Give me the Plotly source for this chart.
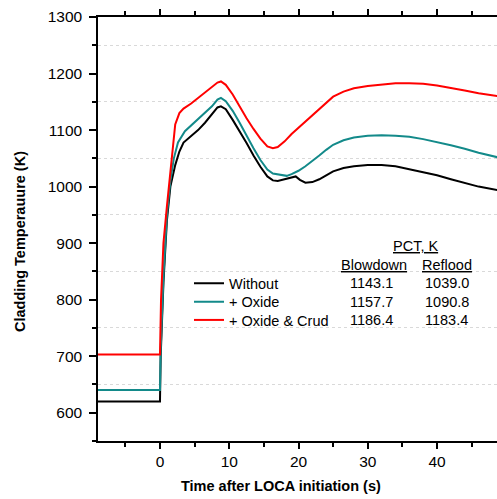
import plotly.graph_objects as go

# ---------------- data ----------------
t_without = [-9, 0, 0.1, 0.5, 1.0, 1.5, 2.2, 2.8, 3.4, 4.5, 5.5, 6.5, 7.5, 8.3, 8.8, 9.5,
             10.5, 11.5, 12.5, 13.5, 14.5, 15.5, 16.3, 17, 18, 19, 19.6, 20.2, 21, 22, 23,
             24, 25, 26.5, 28, 30, 32, 34, 36, 38, 40, 42, 44, 46, 48.7]
T_without = [620, 620, 700, 830, 940, 1000, 1038, 1062, 1078, 1089, 1100, 1113, 1128, 1140, 1142, 1137,
             1118, 1098, 1077, 1055, 1035, 1018, 1011, 1010, 1013, 1017, 1018, 1012, 1007, 1008, 1013,
             1020, 1027, 1033, 1036, 1038, 1038, 1036, 1031, 1026, 1020, 1013, 1006, 1000, 994]

t_oxide = [-9, 0, 0.1, 0.5, 1.0, 1.5, 2.0, 2.6, 3.6, 4.5, 5.5, 6.5, 7.5, 8.3, 8.8, 9.5,
           10.5, 11.5, 12.5, 13.5, 14.5, 15.5, 16.3, 17, 17.5, 18.3, 19, 20, 21, 22, 23,
           24, 25, 26.5, 28, 30, 32, 34, 36, 38, 40, 42, 44, 46, 48.7]
T_oxide = [640, 640, 710, 840, 950, 1010, 1050, 1078, 1098, 1108, 1119, 1130, 1142, 1154, 1157, 1151,
           1134, 1113, 1090, 1068, 1047, 1030, 1023, 1022, 1021, 1019, 1022, 1028, 1036, 1045, 1055,
           1065, 1074, 1082, 1087, 1090, 1091, 1090, 1088, 1084, 1079, 1073, 1067, 1060, 1052]

t_crud = [-9, 0, 0.15, 0.5, 1.0, 1.5, 2.2, 2.8, 3.4, 4.5, 5.5, 6.5, 7.5, 8.3, 8.8, 9.5,
          10.5, 11.5, 12.5, 13.5, 14.5, 15.5, 16.3, 17, 18, 19, 20, 21, 22, 23,
          24, 25, 26.5, 28, 30, 32, 34, 36, 38, 40, 42, 44, 46, 48.7]
T_crud = [703, 703, 800, 900, 965, 1028, 1110, 1130, 1138, 1147, 1157, 1166, 1176, 1184, 1186, 1180,
          1163, 1141, 1121, 1102, 1085, 1071, 1068, 1070, 1080, 1093, 1104, 1115, 1126, 1138,
          1149, 1159, 1168, 1174, 1178, 1181, 1183, 1183, 1182, 1179, 1175, 1170, 1165, 1160]

series_names = ["Without", "+ Oxide", "+ Oxide & Crud"]
pct_blowdown = ["1143.1", "1157.7", "1186.4"]
pct_reflood = ["1039.0", "1090.8", "1183.4"]
colors = ["#000000", "#138a8a", "#ff0000"]

# ---------------- geometry helpers (pixel -> paper) ----------------
W, H = 497, 499
L, R, T, B = 98, 0, 17, 58
PW, PH = W - L - R, H - T - B


def px(xp):
    return (xp - L) / PW


def py(yp):
    return (H - B - yp) / PH


FONT = "Liberation Sans, Arial, sans-serif"

fig = go.Figure()
xs = [t_without, t_oxide, t_crud]
ys = [T_without, T_oxide, T_crud]
legend_ids = ["legend", "legend2", "legend3"]
row_y = [283.3, 301.7, 320.0]

for i in range(3):
    fig.add_trace(go.Scatter(
        x=xs[i], y=ys[i], mode="lines", name=series_names[i],
        line=dict(color=colors[i], width=2),
        legend=legend_ids[i], showlegend=True,
    ))

legend_common = dict(
    xanchor="left", yanchor="middle", bgcolor="rgba(0,0,0,0)",
    borderwidth=0, font=dict(family=FONT, size=14.5, color="#000"),
    itemwidth=30, tracegroupgap=0,
)
layout_legends = {}
for i, lid in enumerate(legend_ids):
    layout_legends[lid] = dict(x=px(189), y=py(row_y[i]), **legend_common)

annotations = []
annotations.append(dict(text="<b>Cladding Temperauure (K)</b>", xref="paper", yref="paper",
                        x=px(20), y=py(242), textangle=-90, showarrow=False,
                        font=dict(family=FONT, size=14.5, color="#000"),
                        xanchor="center", yanchor="middle"))
annotations.append(dict(text="<b>Time after LOCA initiation (s)</b>", xref="paper", yref="paper",
                        x=px(281), y=py(486), showarrow=False,
                        font=dict(family=FONT, size=14.5, color="#000"),
                        xanchor="center", yanchor="middle"))
tfont = dict(family=FONT, size=14.5, color="#000")
annotations.append(dict(text="<u>PCT, K</u>", xref="paper", yref="paper", x=px(415), y=py(246),
                        showarrow=False, font=tfont, xanchor="center", yanchor="middle"))
annotations.append(dict(text="<u>Blowdown</u>", xref="paper", yref="paper", x=px(373.5), y=py(265),
                        showarrow=False, font=tfont, xanchor="center", yanchor="middle"))
annotations.append(dict(text="<u>Reflood</u>", xref="paper", yref="paper", x=px(446.5), y=py(265),
                        showarrow=False, font=tfont, xanchor="center", yanchor="middle"))
for i in range(3):
    annotations.append(dict(text=pct_blowdown[i], xref="paper", yref="paper", x=px(371), y=py(row_y[i]),
                            showarrow=False, font=tfont, xanchor="center", yanchor="middle"))
    annotations.append(dict(text=pct_reflood[i], xref="paper", yref="paper", x=px(446.5), y=py(row_y[i]),
                            showarrow=False, font=tfont, xanchor="center", yanchor="middle"))

fig.update_layout(
    width=W, height=H,
    margin=dict(l=L, r=R, t=T, b=B, pad=0),
    paper_bgcolor="white", plot_bgcolor="white",
    font=dict(family=FONT, color="#000"),
    annotations=annotations,
    **layout_legends,
)

fig.update_xaxes(
    range=[-8.95, 48.66], tick0=0, dtick=10,
    showline=True, linecolor="#000", linewidth=1.5, mirror="ticks",
    ticks="outside", ticklen=6, tickwidth=1.5, tickcolor="#000",
    tickfont=dict(family=FONT, size=15.5, color="#000"),
    showgrid=False, zeroline=False,
    minor=dict(dtick=5, tick0=0, ticks="outside", ticklen=4, tickwidth=1.5, tickcolor="#000", showgrid=False),
)
fig.update_yaxes(
    range=[550, 1300], tick0=0, dtick=100,
    showline=True, linecolor="#000", linewidth=1.5, mirror=False,
    ticks="outside", ticklen=7, tickwidth=1.5, tickcolor="#000",
    tickfont=dict(family=FONT, size=15.5, color="#000"),
    ticklabelstandoff=4,
    showgrid=False, zeroline=False,
    minor=dict(dtick=50, tick0=0, ticks="outside", ticklen=4, tickwidth=1.5, tickcolor="#000",
               showgrid=True, gridcolor="#d9d9d9", griddash="dot", gridwidth=1),
)

fig.write_html("out.html", config={"displayModeBar": False},
               post_script="document.body.style.margin='0px';document.body.style.overflow='hidden';")
